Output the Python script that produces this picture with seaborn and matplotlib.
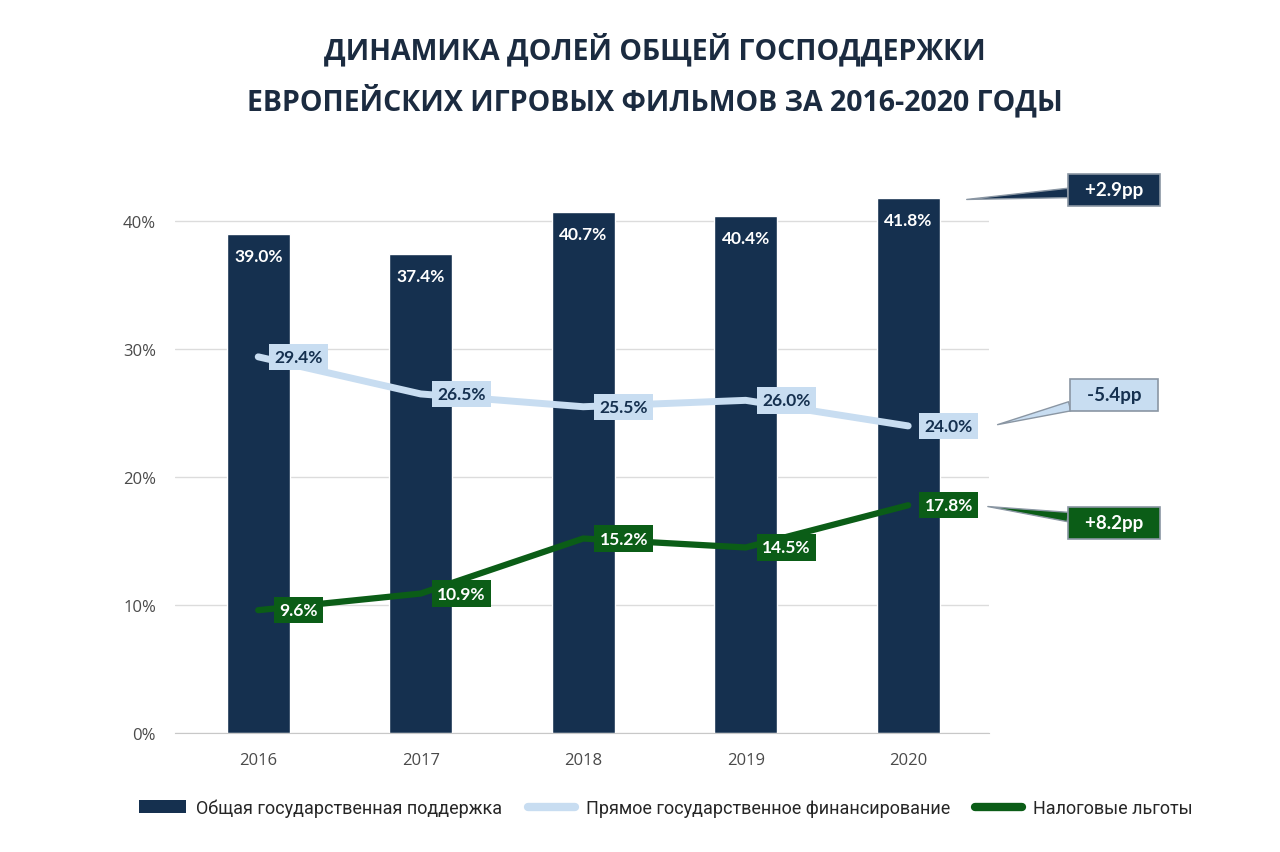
import numpy as np
import pandas as pd
import matplotlib.pyplot as plt
import seaborn as sns
from matplotlib.patches import Patch
from matplotlib.lines import Line2D

years = ['2016', '2017', '2018', '2019', '2020']
total_support = [39.0, 37.4, 40.7, 40.4, 41.8]
direct_funding = [29.4, 26.5, 25.5, 26.0, 24.0]
tax_incentives = [9.6, 10.9, 15.2, 14.5, 17.8]
changes = ['+2.9pp', '-5.4pp', '+8.2pp']
legend_labels = ['Общая государственная поддержка',
                 'Прямое государственное финансирование',
                 'Налоговые льготы']
title = 'ДИНАМИКА ДОЛЕЙ ОБЩЕЙ ГОСПОДДЕРЖКИ\nЕВРОПЕЙСКИХ ИГРОВЫХ ФИЛЬМОВ ЗА 2016-2020 ГОДЫ'

NAVY = '#15304f'
LIGHT = '#c8ddf1'
GREEN = '#0b5d17'

sns.set_style('white')
plt.rcParams['font.family'] = ['Open Sans', 'DejaVu Sans']

fig = plt.figure(figsize=(12.8, 8.53), dpi=100)
ax = fig.add_axes([0.137, 0.1395, 0.636, 0.66])

df = pd.DataFrame({'year': years, 'total': total_support,
                   'direct': direct_funding, 'tax': tax_incentives})
df['pos'] = np.arange(len(years))

sns.barplot(data=df, x='year', y='total', color=NAVY, width=0.39,
            saturation=1, ax=ax, zorder=2)
sns.lineplot(data=df, x='pos', y='direct', color=LIGHT, linewidth=5,
             ax=ax, zorder=3, solid_capstyle='round')
sns.lineplot(data=df, x='pos', y='tax', color=GREEN, linewidth=4.5,
             ax=ax, zorder=3, solid_capstyle='round')

label_font = ['Lato', 'DejaVu Sans']

# value labels
for i, v in enumerate(total_support):
    ax.text(i, v - 1.7, f'{v:.1f}%', ha='center', va='center', color='white',
            fontsize=12.5, fontweight='bold', zorder=5, family=label_font)
for i, v in enumerate(direct_funding):
    ax.text(i + 0.25, v, f'{v:.1f}%', ha='center', va='center', color=NAVY,
            fontsize=12.5, fontweight='bold', zorder=5, family=label_font,
            bbox=dict(boxstyle='square,pad=0.3', fc=LIGHT, ec='none'))
for i, v in enumerate(tax_incentives):
    ax.text(i + 0.25, v, f'{v:.1f}%', ha='center', va='center', color='white',
            fontsize=12.5, fontweight='bold', zorder=5, family=label_font,
            bbox=dict(boxstyle='square,pad=0.3', fc=GREEN, ec='none'))

# change callouts
callouts = [
    (changes[0], (4.36, total_support[-1] - 0.1), 662, NAVY, 'white'),
    (changes[1], (4.55, direct_funding[-1] + 0.1), 457, LIGHT, NAVY),
    (changes[2], (4.49, tax_incentives[-1] - 0.1), 329, GREEN, 'white'),
]
for txt, xy, ypix, fc, tc in callouts:
    ax.annotate(f'  {txt}  ', xy=xy, xycoords='data', xytext=(1114, ypix),
                textcoords='figure pixels', ha='center', va='center',
                color=tc, fontsize=13.5, fontweight='bold', annotation_clip=False,
                family=label_font,
                bbox=dict(boxstyle='square,pad=0.4', fc=fc, ec='#8a96a3', lw=1.2),
                arrowprops=dict(arrowstyle='wedge,tail_width=0.5', fc=fc,
                                ec='#8a96a3', lw=1, shrinkA=0, shrinkB=0))

ax.set_xlim(-0.51, 4.5)
ax.set_ylim(0, 44)
ax.set_yticks([0, 10, 20, 30, 40])
ax.set_yticklabels([f'{t}%' for t in [0, 10, 20, 30, 40]])
ax.yaxis.grid(True, color='#dcdcdc', linewidth=1, zorder=0)
ax.set_axisbelow(True)
ax.set_xlabel('')
ax.set_ylabel('')
for s in ['top', 'right', 'left']:
    ax.spines[s].set_visible(False)
ax.spines['bottom'].set_color('#c8c8c8')
ax.tick_params(axis='both', length=0, labelsize=12, labelcolor='#4a4a4a')
ax.tick_params(axis='x', pad=14)
ax.tick_params(axis='y', pad=14)

fig.text(0.512, 0.912, title, ha='center', va='center', fontsize=20.5,
         fontweight='bold', fontstretch='extra-condensed', color='#1b2b40',
         linespacing=1.65)

handles = [Patch(fc=NAVY, ec='none'),
           Line2D([], [], color=LIGHT, lw=6, solid_capstyle='round'),
           Line2D([], [], color=GREEN, lw=6, solid_capstyle='round')]
fig.legend(handles, legend_labels, loc='center', bbox_to_anchor=(0.52, 0.052),
           ncol=3, frameon=False, columnspacing=1.4, handlelength=2.6,
           handletextpad=0.6,
           prop={'family': ['Roboto', 'DejaVu Sans'], 'size': 13})

fig.savefig('out.png', dpi=100)
